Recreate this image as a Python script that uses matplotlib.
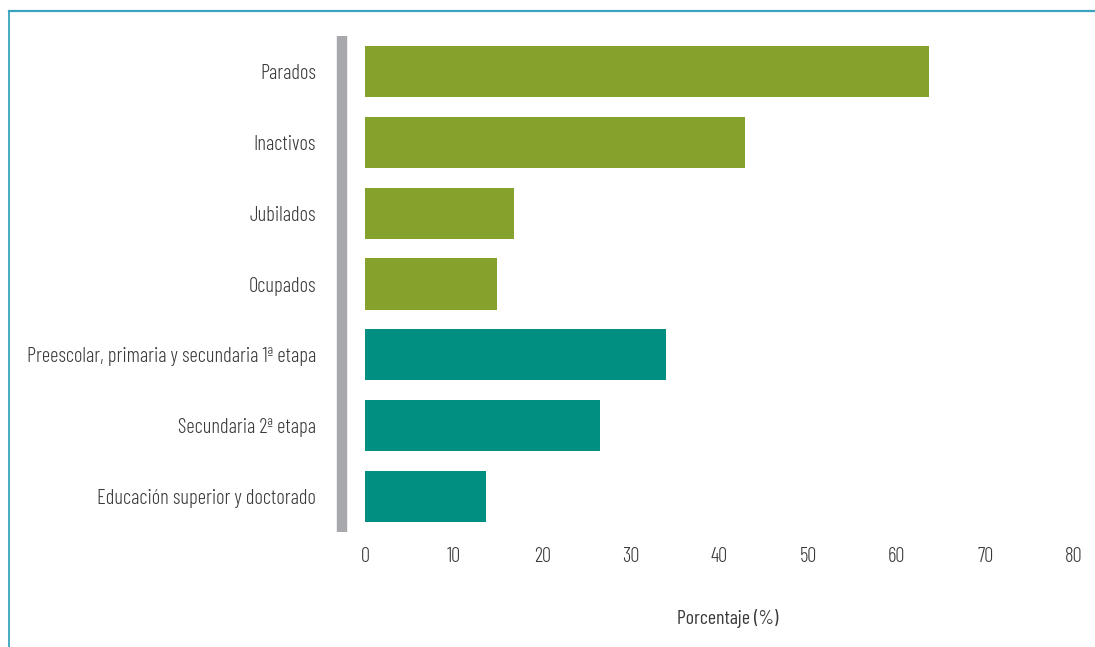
import matplotlib
matplotlib.use("Agg")
import matplotlib.pyplot as plt
from matplotlib.lines import Line2D

categories = [
    "Parados",
    "Inactivos",
    "Jubilados",
    "Ocupados",
    "Preescolar, primaria y secundaria 1ª etapa",
    "Secundaria 2ª etapa",
    "Educación superior y doctorado",
]
values = [63.6, 42.9, 16.8, 14.9, 34.0, 26.5, 13.7]
groups = ["situacion", "situacion", "situacion", "situacion",
          "estudios", "estudios", "estudios"]
xticks = [0, 10, 20, 30, 40, 50, 60, 70, 80]

palette = {"situacion": "#84A22C", "estudios": "#008F80"}
text_color = "#3a3a3a"

plt.rcParams["font.family"] = ["Barlow Condensed", "DejaVu Sans"]
plt.rcParams["font.weight"] = 300
fs = 14.8

W, H = 1095, 647
fig = plt.figure(figsize=(W / 100, H / 100), dpi=100)
fig.patch.set_facecolor("white")

# axes box in pixel units
left, right, top, bottom = 365, 1074, 36, 532
ax = fig.add_axes([left / W, 1 - bottom / H, (right - left) / W, (bottom - top) / H])

# grey category rail, offset from the bars (done first: moving a spine resets ticks)
for s in ("top", "right", "bottom"):
    ax.spines[s].set_visible(False)
ax.spines["left"].set_position(("outward", 16.5))
ax.spines["left"].set_color("#A7A8AB")
ax.spines["left"].set_linewidth(7.5)
ax.spines["left"].set_capstyle("butt")

y = list(range(len(categories)))
ax.barh(y, values, height=0.72, color=[palette[g] for g in groups], zorder=2)

ax.set_xlim(0, 80)
ax.set_ylim(len(categories) - 0.5, -0.5)
ax.set_yticks(y)
ax.set_yticklabels(categories)
ax.set_xticks(xticks)
ax.set_xticklabels([str(t) for t in xticks])
ax.tick_params(axis="both", length=0, labelsize=fs, labelcolor=text_color)
ax.tick_params(axis="y", pad=18.7)
ax.tick_params(axis="x", pad=11)

ax.set_xlabel("Porcentaje (%)", fontsize=14.3, color=text_color)
ax.xaxis.set_label_coords((728 - left) / (right - left), -(619 - bottom) / (bottom - top))
ax.xaxis.label.set_verticalalignment("center")

# frame lines along top and left edges of the figure
frame_color = "#3BA3C0"
fig.add_artist(Line2D([8.5 / W, 8.5 / W], [0, 1 - 11 / H], transform=fig.transFigure,
                      color=frame_color, linewidth=1.3))
fig.add_artist(Line2D([8.5 / W, 1], [1 - 11 / H, 1 - 11 / H], transform=fig.transFigure,
                      color=frame_color, linewidth=1.6))

fig.savefig("out.png", dpi=100, facecolor="white")
